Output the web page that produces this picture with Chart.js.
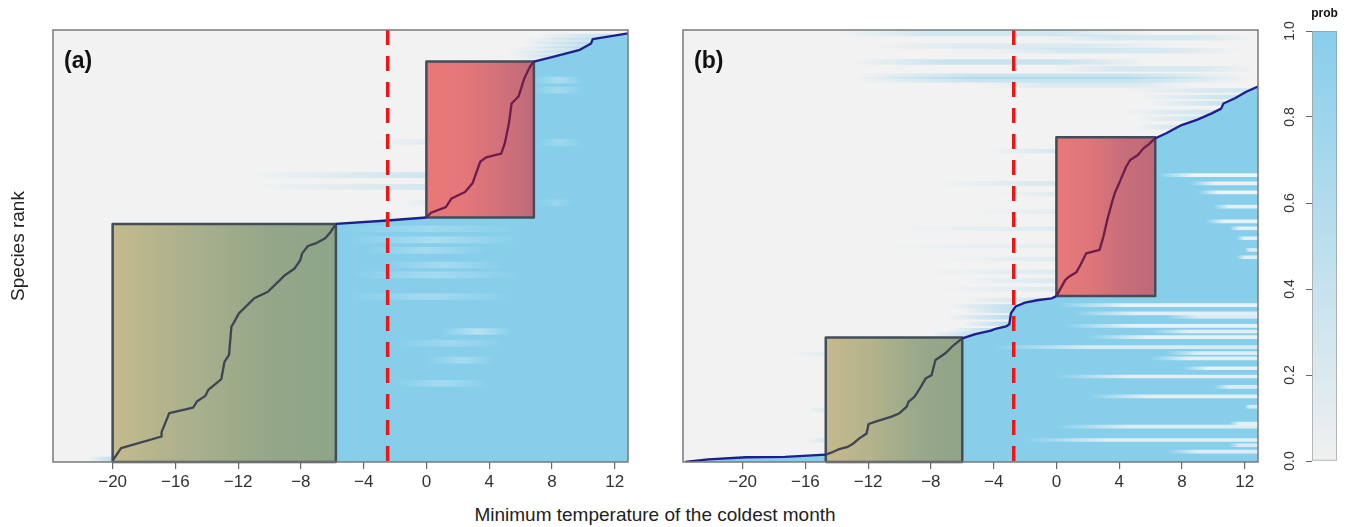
<!DOCTYPE html>
<html>
<head>
<meta charset="utf-8">
<title>Species rank vs minimum temperature of the coldest month</title>
<script src="https://cdn.jsdelivr.net/npm/chart.js@4.4.1/dist/chart.umd.min.js"></script>
<style>
  html, body { margin: 0; padding: 0; background: #ffffff; }
  body { width: 1351px; height: 527px; position: relative; overflow: hidden; font-family: "Liberation Sans", Arial, sans-serif; }
  canvas { position: absolute; top: 0; }
  #xTitle { position: absolute; left: 405px; width: 500px; top: 503px; text-align: center; font-size: 19px; line-height: 24px; color: #222; }
</style>
</head>
<body>
<canvas id="panelA" width="640" height="500" style="left:0px"></canvas>
<canvas id="panelB" width="640" height="500" style="left:630px"></canvas>
<canvas id="probBar" width="81" height="500" style="left:1270px"></canvas>
<div id="xTitle">Minimum temperature of the coldest month</div>
<script>
// axis ticks
var xTicks = [-20, -16, -12, -8, -4, 0, 4, 8, 12];
var probTicks = [0, 0.2, 0.4, 0.6, 0.8, 1];

// panel (a): threshold temperature by species rank
var curveA_temp = [-20, -19.46, -16.88, -16.88, -16.39, -14.87, -14.63, -14.09, -13.9, -13.07, -12.87, -12.58,
  -12.43, -12.3, -11.95, -10.97, -10.1, -9.0, -8.4, -8.04, -7.92, -7.55, -7.06, -6.45, -6.09, -5.77, -2.5, 0,
  0.29, 1.24, 1.6, 2.46, 2.94, 3.43, 3.8, 4.77, 5.0, 5.26, 5.43, 5.87, 6.24, 6.6, 6.85, 8.07, 9.78, 10.5, 10.6, 12.85];
var curveA_rank = [0.003, 0.032, 0.059, 0.069, 0.113, 0.126, 0.140, 0.153, 0.167, 0.192, 0.232, 0.248,
  0.313, 0.321, 0.344, 0.379, 0.394, 0.433, 0.448, 0.467, 0.483, 0.50, 0.506, 0.518, 0.533, 0.551, 0.559, 0.566,
  0.577, 0.59, 0.610, 0.625, 0.645, 0.695, 0.705, 0.714, 0.738, 0.784, 0.830, 0.846, 0.888, 0.915, 0.927, 0.938, 0.954, 0.969, 0.979, 0.992];
var thresholdA = -2.47;
// boxes: [temp from, temp to, rank from, rank to]
var coldBoxA = [-20, -5.77, 0, 0.551];
var warmBoxA = [0, 6.85, 0.566, 0.927];

// panel (b)
var curveB_temp = [-23.65, -22.2, -19.76, -17.3, -14.7, -14.4, -13.9, -13.3, -12.94, -12.58, -12.1, -11.97,
  -11.48, -10.5, -10.0, -9.54, -9.42, -9.05, -8.69, -8.32, -7.96, -7.71, -7.47, -7.1, -6.62, -6.0, -5.16, -4.18,
  -3.82, -3.2, -3.0, -2.9, -2.6, -2.0, -1.14, -0.29, 0, 0.56, 0.8, 1.29, 1.53, 1.9, 2.75, 3.0, 3.24, 3.55,
  3.72, 4.09, 4.45, 4.7, 5.18, 5.55, 5.9, 6.28, 7.0, 7.98, 8.95, 9.9, 10.5, 10.65, 11.38, 12.1, 12.85];
var curveB_rank = [0.0, 0.006, 0.011, 0.012, 0.017, 0.021, 0.029, 0.035, 0.043, 0.054, 0.066, 0.088,
  0.094, 0.105, 0.113, 0.128, 0.140, 0.151, 0.171, 0.194, 0.201, 0.236, 0.242, 0.251, 0.268, 0.286, 0.296, 0.304,
  0.309, 0.314, 0.319, 0.344, 0.360, 0.369, 0.375, 0.379, 0.384, 0.421, 0.429, 0.44, 0.456, 0.483, 0.491, 0.522, 0.560, 0.602,
  0.622, 0.653, 0.684, 0.699, 0.71, 0.726, 0.736, 0.749, 0.761, 0.780, 0.792, 0.807, 0.818, 0.830, 0.842, 0.857, 0.869];
var thresholdB = -2.72;
var coldBoxB = [-14.7, -6.0, 0, 0.288];
var warmBoxB = [0, 6.3, 0.384, 0.752];

// heat-map streaks: [rank, temp from, temp to, strength]
var hazeA = [
  [0.664, -11.5, 1, 0.38], [0.637, -11.5, 1, 0.32], [0.741, -3.5, 0.5, 0.18], [0.60, -1.5, 0.5, 0.2],
  [0.985, 7, 11.8, 0.45], [0.975, 6, 11, 0.4], [0.965, 6.5, 10.6, 0.45], [0.955, 5.5, 10, 0.4],
  [0.945, 5, 9, 0.35], [0.935, 5.5, 8.5, 0.3], [0.006, -21.5, -20, 0.5]
];
var sheenA = [
  [0.54, -5.5, 6, 0.2], [0.514, -5, 6, 0.3], [0.49, -4, 4, 0.25], [0.456, -3, 5, 0.25], [0.433, -5, 6, 0.25],
  [0.383, -5, 5.5, 0.25], [0.302, 1, 5.5, 0.4], [0.275, -2, 5, 0.2], [0.236, 0, 4.5, 0.25], [0.182, -2, 4, 0.25],
  [0.884, 6.8, 10, 0.3], [0.861, 6.8, 10, 0.25], [0.74, 7, 10, 0.2], [0.60, 7, 9.5, 0.15]
];
var hazeTopB = [
  [0.992, -14, 6, 0.3], [0.982, -1, 12.8, 0.25], [0.963, -12, 8, 0.2], [0.952, -5, 12, 0.25],
  [0.926, -13, 6, 0.38], [0.91, 0, 12.8, 0.25], [0.893, -13, 12, 0.38], [0.885, -13, 12.5, 0.38], [0.873, -5, 9, 0.2]
];
var hazeB = [
  [0.86, 4, 12.3, 0.35], [0.845, 5, 11.5, 0.4], [0.83, 6, 10.7, 0.4], [0.81, 4, 10.1, 0.35],
  [0.795, 5, 9.2, 0.35], [0.775, 5, 7.7, 0.3], [0.72, -4.5, 1, 0.35], [0.645, -8, 1, 0.3],
  [0.62, -4, 1, 0.2], [0.58, -6, 1, 0.15], [0.54, -11, 1, 0.2], [0.50, -12, 1, 0.15], [0.47, -8, 1, 0.2],
  [0.44, -9, 0.5, 0.2], [0.42, -6, 0.5, 0.25], [0.40, -8, 0.5, 0.2], [0.375, -6, -1, 0.35],
  [0.36, -7, -2.5, 0.5], [0.35, -6, -2.7, 0.5], [0.335, -7, -2.9, 0.55], [0.32, -6, -3, 0.55],
  [0.305, -7, -3.8, 0.55], [0.295, -8, -5, 0.5], [0.25, -17, -14.6, 0.15], [0.12, -16, -14.6, 0.2], [0.05, -16, -14.6, 0.25]
];
var gapsB = [
  [0.664, 6.5, 12.85, 0.9], [0.645, 8.5, 12.85, 0.85], [0.624, 9, 12.85, 0.9], [0.591, 10, 12.85, 0.8],
  [0.557, 9.5, 12.85, 0.85], [0.541, 11, 12.85, 0.8], [0.518, 11.5, 12.85, 0.8], [0.491, 12, 12.85, 0.7],
  [0.474, 11.5, 12.85, 0.75], [0.363, 0, 12.85, 0.85], [0.344, 1, 12.85, 0.8], [0.336, 7, 12.85, 0.7],
  [0.315, 0.5, 12.85, 0.85], [0.302, 6, 12.85, 0.8], [0.289, 2, 12.85, 0.85], [0.266, -4, 12.85, 0.7],
  [0.252, 7, 12.85, 0.75], [0.24, 6, 12.85, 0.8], [0.217, 8, 12.85, 0.85], [0.198, 0, 12.85, 0.8],
  [0.174, 10, 12.85, 0.75], [0.152, 2, 12.85, 0.8], [0.128, 12, 12.85, 0.7], [0.089, 11, 12.85, 0.8],
  [0.082, 0, 12.85, 0.75], [0.051, -2, 12.85, 0.8], [0.039, 11, 12.85, 0.7], [0.024, 7, 12.85, 0.75]
];

var SKY = [135, 206, 235];
var PALE = [248, 248, 248];
var WHITE = [255, 255, 255];

Chart.defaults.font.family = '"Liberation Sans", Arial, sans-serif';

function rgba(c, a) {
  return 'rgba(' + c[0] + ',' + c[1] + ',' + c[2] + ',' + a + ')';
}

function curvePoints(temps, ranks) {
  var pts = [];
  for (var i = 0; i < temps.length; i++) {
    pts.push({ x: temps[i], y: ranks[i] });
  }
  return pts;
}

function inBox(box, x, y) {
  return x >= box[0] - 0.01 && x <= box[1] + 0.01 && y >= box[2] - 0.002 && y <= box[3] + 0.002;
}

function streakSet(rows, color, thick, fadeIn, fadeOut) {
  return {
    type: 'bar',
    indexAxis: 'y',
    grouped: false,
    barThickness: thick,
    borderWidth: 0,
    data: rows.map(function(r) { return { y: r[0], x: [r[1], r[2]] }; }),
    backgroundColor: function(ctx) {
      var chart = ctx.chart;
      if (!chart.chartArea || ctx.dataIndex == null || !rows[ctx.dataIndex]) return 'rgba(0,0,0,0)';
      var row = rows[ctx.dataIndex];
      var p0 = chart.scales.x.getPixelForValue(row[1]);
      var p1 = chart.scales.x.getPixelForValue(row[2]);
      if (Math.abs(p1 - p0) < 1) p1 = p0 + 1;
      var g = chart.ctx.createLinearGradient(p0, 0, p1, 0);
      g.addColorStop(0, rgba(color, 0));
      g.addColorStop(fadeIn, rgba(color, row[3]));
      g.addColorStop(fadeOut, rgba(color, row[3]));
      g.addColorStop(1, rgba(color, fadeOut < 1 ? 0 : row[3]));
      return g;
    }
  };
}

function boxFill(box, colors) {
  return {
    data: [{ x: box[0], y: box[3] }, { x: box[1], y: box[3] }],
    borderWidth: 0,
    fill: { value: box[2] },
    backgroundColor: function(ctx) {
      var chart = ctx.chart;
      if (!chart.chartArea) return colors[0];
      var xs = chart.scales.x;
      var g = chart.ctx.createLinearGradient(xs.getPixelForValue(box[0]), 0, xs.getPixelForValue(box[1]), 0);
      for (var i = 0; i < colors.length; i++) {
        g.addColorStop(i / (colors.length - 1), colors[i]);
      }
      return g;
    }
  };
}

function boxEdge(box) {
  return {
    data: [{ x: box[0], y: box[2] }, { x: box[0], y: box[3] }, { x: box[1], y: box[3] },
           { x: box[1], y: box[2] }, { x: box[0], y: box[2] }],
    borderColor: '#434d59',
    borderWidth: 2.5,
    fill: false,
    clip: 4
  };
}

function makePanel(spec) {
  var pts = curvePoints(spec.temps, spec.ranks);

  var datasets = [
    {
      // threshold of the model
      data: [{ x: spec.threshold, y: 1 }, { x: spec.threshold, y: 0 }],
      borderColor: '#ee1515',
      borderWidth: 3.5,
      borderDash: [15, 11],
      fill: false
    },
    {
      data: pts,
      borderColor: '#1e1e8c',
      borderWidth: 2.3,
      fill: false,
      segment: {
        borderColor: function(ctx) {
          var mx = (ctx.p0.parsed.x + ctx.p1.parsed.x) / 2;
          var my = (ctx.p0.parsed.y + ctx.p1.parsed.y) / 2;
          if (inBox(spec.coldBox, mx, my)) return '#3d4453';
          if (inBox(spec.warmBox, mx, my)) return '#6c1d4d';
          return '#1e1e8c';
        }
      }
    },
    boxEdge(spec.coldBox),
    boxEdge(spec.warmBox),
    boxFill(spec.coldBox, spec.coldColors),
    boxFill(spec.warmBox, spec.warmColors)
  ];

  spec.over.forEach(function(l) {
    datasets.push(streakSet(l.rows, l.color, l.thick, l.fadeIn, l.fadeOut));
  });

  datasets.push({
    data: pts,
    borderWidth: 0,
    borderColor: 'rgba(0,0,0,0)',
    fill: 'start',
    backgroundColor: rgba(SKY, 1)
  });

  spec.under.forEach(function(l) {
    datasets.push(streakSet(l.rows, l.color, l.thick, l.fadeIn, l.fadeOut));
  });

  var decor = {
    id: 'decor',
    beforeDraw: function(chart) {
      var a = chart.chartArea;
      var c = chart.ctx;
      c.save();
      c.fillStyle = '#f2f2f2';
      c.fillRect(a.left, a.top, a.right - a.left, a.bottom - a.top);
      c.restore();
    },
    afterDatasetsDraw: function(chart) {
      var a = chart.chartArea;
      var c = chart.ctx;
      c.save();
      c.strokeStyle = '#7a7a7a';
      c.lineWidth = 1.5;
      c.strokeRect(a.left, a.top, a.right - a.left, a.bottom - a.top);
      c.restore();
    },
    afterDraw: function(chart) {
      var a = chart.chartArea;
      var c = chart.ctx;
      c.save();
      c.fillStyle = '#111';
      c.font = 'bold 23px "Liberation Sans", Arial, sans-serif';
      c.textAlign = 'left';
      c.textBaseline = 'alphabetic';
      c.fillText(spec.label, a.left + 11, a.top + 38);
      c.restore();
    }
  };

  return new Chart(document.getElementById(spec.canvas), {
    type: 'line',
    data: { datasets: datasets },
    options: {
      responsive: false,
      animation: false,
      events: [],
      layout: { padding: { left: spec.padLeft, top: 30, right: 12, bottom: 0 } },
      elements: {
        point: { radius: 0, hitRadius: 0 },
        line: { tension: 0, borderJoinStyle: 'round' }
      },
      plugins: {
        legend: { display: false },
        tooltip: { enabled: false }
      },
      scales: {
        x: {
          type: 'linear',
          min: -23.8,
          max: 12.85,
          offset: false,
          afterBuildTicks: function(s) {
            s.ticks = xTicks.map(function(v) { return { value: v }; });
          },
          afterFit: function(s) { s.height = 38; },
          grid: { offset: false, drawOnChartArea: false, drawTicks: true, tickLength: 7, color: '#666', lineWidth: 1.2 },
          border: { display: false },
          ticks: {
            autoSkip: false,
            maxRotation: 0,
            padding: 3,
            color: '#333',
            font: { size: 17 },
            callback: function(v) { return String(v).replace('-', '\u2212'); }
          }
        },
        y: {
          type: 'linear',
          min: 0,
          max: 1,
          offset: false,
          afterFit: function(s) { s.width = spec.yWidth; },
          grid: { display: false, offset: false },
          border: { display: false },
          ticks: { display: false },
          title: {
            display: spec.yTitle !== '',
            text: spec.yTitle,
            color: '#222',
            font: { size: 19 },
            padding: { top: 4, bottom: 0 }
          }
        }
      }
    },
    plugins: [decor]
  });
}

makePanel({
  canvas: 'panelA',
  label: '(a)',
  yTitle: 'Species rank',
  padLeft: 3,
  yWidth: 50,
  temps: curveA_temp,
  ranks: curveA_rank,
  threshold: thresholdA,
  coldBox: coldBoxA,
  warmBox: warmBoxA,
  coldColors: ['#c4ba8d', '#abb18c', '#95a889', '#8ea587'],
  warmColors: ['#e97878', '#e57779', '#d4717a', '#bf6a7a'],
  over: [{ rows: sheenA, color: WHITE, thick: 6, fadeIn: 0.5, fadeOut: 0.5 }],
  under: [{ rows: hazeA, color: SKY, thick: 5, fadeIn: 1, fadeOut: 1 }]
});

makePanel({
  canvas: 'panelB',
  label: '(b)',
  yTitle: '',
  padLeft: 0,
  yWidth: 53,
  temps: curveB_temp,
  ranks: curveB_rank,
  threshold: thresholdB,
  coldBox: coldBoxB,
  warmBox: warmBoxB,
  coldColors: ['#c6b98c', '#b3b38c', '#99a98a', '#90a488'],
  warmColors: ['#e87979', '#de7679', '#c96e7a', '#bd6979'],
  over: [{ rows: gapsB, color: PALE, thick: 3, fadeIn: 0.35, fadeOut: 1 }],
  under: [
    { rows: hazeB, color: SKY, thick: 4, fadeIn: 1, fadeOut: 1 },
    { rows: hazeTopB, color: SKY, thick: 5, fadeIn: 0.3, fadeOut: 0.7 }
  ]
});

// colour key
var probLabel = {
  id: 'probLabel',
  afterDraw: function(chart) {
    var a = chart.chartArea;
    var c = chart.ctx;
    c.save();
    c.fillStyle = '#111';
    c.font = 'bold 12px "Liberation Sans", Arial, sans-serif';
    c.textAlign = 'center';
    c.textBaseline = 'middle';
    c.fillText('prob', (a.left + a.right) / 2, a.top - 17);
    c.restore();
  }
};

new Chart(document.getElementById('probBar'), {
  type: 'bar',
  data: {
    labels: ['prob'],
    datasets: [{
      data: [[0, 1]],
      backgroundColor: function(ctx) {
        var chart = ctx.chart;
        if (!chart.chartArea) return rgba(SKY, 1);
        var ys = chart.scales.y;
        var g = chart.ctx.createLinearGradient(0, ys.getPixelForValue(0), 0, ys.getPixelForValue(1));
        g.addColorStop(0, '#f0f0f0');
        g.addColorStop(1, '#87ceeb');
        return g;
      },
      borderColor: '#9a9a9a',
      borderWidth: 1,
      borderSkipped: false,
      barPercentage: 1,
      categoryPercentage: 1
    }]
  },
  options: {
    responsive: false,
    animation: false,
    events: [],
    layout: { padding: { left: 0, top: 31, right: 14, bottom: 39 } },
    plugins: {
      legend: { display: false },
      tooltip: { enabled: false }
    },
    scales: {
      x: { display: false },
      y: {
        type: 'linear',
        min: 0,
        max: 1,
        afterBuildTicks: function(s) {
          s.ticks = probTicks.map(function(v) { return { value: v }; });
        },
        afterFit: function(s) { s.width = 42; },
        grid: { drawOnChartArea: false, drawTicks: true, tickLength: 6, color: '#666' },
        border: { display: false },
        ticks: {
          minRotation: 90,
          maxRotation: 90,
          crossAlign: 'center',
          padding: 6,
          color: '#333',
          font: { size: 14 },
          callback: function(v) { return v.toFixed(1); }
        }
      }
    }
  },
  plugins: [probLabel]
});
</script>
</body>
</html>
